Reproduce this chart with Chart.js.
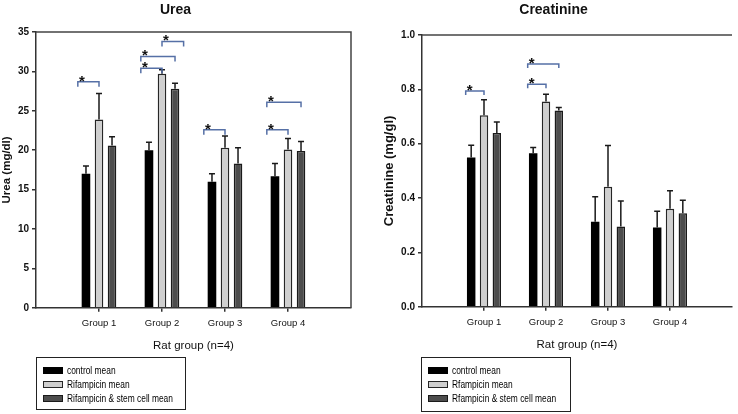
<!DOCTYPE html>
<html>
<head>
<meta charset="utf-8">
<title>Urea and Creatinine by rat group</title>
<script src="https://cdn.jsdelivr.net/npm/chart.js@4.4.1/dist/chart.umd.min.js"></script>
<style>
  body { margin: 0; background: #fff; }
  #page { position: relative; width: 738px; height: 414px; overflow: hidden; }
  .panel { position: absolute; top: 0; width: 369px; height: 414px; }
  .legend {
    position: absolute; top: 357px; width: 150px; box-sizing: border-box;
    border: 1.5px solid #222; padding: 5px 0 0 5.5px;
    font: 10.5px 'Liberation Sans Narrow', 'Arial Narrow', 'Liberation Sans', Arial, sans-serif;
    color: #000;
  }
  .legend .row { height: 14px; display: flex; align-items: center; white-space: nowrap; }
  .legend .sw { width: 20px; height: 7px; box-sizing: border-box; margin-right: 4.5px; border: 1px solid #111; flex: none; }
  .legend .txt { display: inline-block; transform: scaleX(0.8); transform-origin: left center; }
</style>
</head>
<body>
<div id="page">
  <div class="panel" style="left:0"><canvas id="urea" width="369" height="414"></canvas></div>
  <div class="panel" style="left:369px"><canvas id="crea" width="369" height="414"></canvas></div>
  <div class="legend" id="ureaLegend" style="left:36px;height:53px"></div>
  <div class="legend" id="creaLegend" style="left:421px;height:55px"></div>
</div>
<script>
// categories
var groups = ['Group 1', 'Group 2', 'Group 3', 'Group 4'];
var ureaNames = ['control mean', 'Rifampicin mean', 'Rifampicin & stem cell mean'];
var creaNames = ['control mean', 'Rfampicin mean', 'Rfampicin & stem cell mean'];

// urea (mg/dl): means and upper error
var ureaControl = [17.0, 20.0, 16.0, 16.7];
var ureaControlErr = [1.0, 1.0, 1.0, 1.6];
var ureaRif = [23.9, 29.7, 20.3, 20.1];
var ureaRifErr = [3.3, 0.5, 1.5, 1.4];
var ureaStem = [20.6, 27.8, 18.3, 19.9];
var ureaStemErr = [1.1, 0.7, 2.0, 1.2];

// creatinine (mg/gl)
var creaControl = [0.549, 0.565, 0.313, 0.292];
var creaControlErr = [0.045, 0.021, 0.092, 0.060];
var creaRif = [0.705, 0.755, 0.442, 0.361];
var creaRifErr = [0.057, 0.027, 0.151, 0.066];
var creaStem = [0.639, 0.722, 0.295, 0.344];
var creaStemErr = [0.041, 0.011, 0.094, 0.048];

// significance brackets: group, from series, to series, height
var ureaSig = [
  {group: 0, from: 0, to: 1, y: 28.7},
  {group: 1, from: 0, to: 1, y: 30.4},
  {group: 1, from: 0, to: 2, y: 31.9},
  {group: 1, from: 1, to: 2, y: 33.8},
  {group: 2, from: 0, to: 1, y: 22.6},
  {group: 3, from: 0, to: 1, y: 22.6},
  {group: 3, from: 0, to: 2, y: 26.1}
];
var creaSig = [
  {group: 0, from: 0, to: 1, y: 0.794},
  {group: 1, from: 0, to: 1, y: 0.819},
  {group: 1, from: 0, to: 2, y: 0.893}
];

var FONT = "'Liberation Sans Narrow', 'Arial Narrow', 'Liberation Sans', Arial, sans-serif";
var fills = ['#000000', '#cfcfcf', '#4d4d4d'];
var edges = ['#000000', '#262626', '#1a1a1a'];

Chart.defaults.font.family = FONT;
Chart.defaults.color = '#111';

// top / right box lines
var frame = {
  id: 'frame',
  afterDraw: function (chart, args, opts) {
    var a = chart.chartArea, ctx = chart.ctx;
    ctx.save();
    ctx.strokeStyle = '#444';
    ctx.lineWidth = 1.5;
    ctx.beginPath();
    ctx.moveTo(a.left, a.top);
    ctx.lineTo(a.right, a.top);
    if (opts.right) ctx.lineTo(a.right, a.bottom);
    ctx.stroke();
    ctx.restore();
  }
};

// upper error bars from each dataset's errors list
var errorBars = {
  id: 'errorBars',
  afterDatasetsDraw: function (chart) {
    var ctx = chart.ctx, y = chart.scales.y;
    ctx.save();
    ctx.strokeStyle = '#1a1a1a';
    ctx.lineWidth = 1.5;
    chart.data.datasets.forEach(function (ds, i) {
      chart.getDatasetMeta(i).data.forEach(function (bar, j) {
        if (ds.data[j] == null) return;
        var top = y.getPixelForValue(ds.data[j] + ds.errors[j]);
        ctx.beginPath();
        ctx.moveTo(bar.x, bar.y);
        ctx.lineTo(bar.x, top);
        ctx.moveTo(bar.x - 3, top);
        ctx.lineTo(bar.x + 3, top);
        ctx.stroke();
      });
    });
    ctx.restore();
  }
};

// blue brackets with a star
var brackets = {
  id: 'brackets',
  afterDraw: function (chart, args, opts) {
    var ctx = chart.ctx, y = chart.scales.y;
    ctx.save();
    opts.items.forEach(function (b) {
      var a = chart.getDatasetMeta(b.from).data[b.group + 1];
      var c = chart.getDatasetMeta(b.to).data[b.group + 1];
      var w = a.width;
      var x1 = a.x - (b.from === 0 ? opts.lead * w : 0);
      var x2 = c.x + (b.from === 0 ? 0 : w);
      var yy = y.getPixelForValue(b.y);
      ctx.strokeStyle = '#5670a6';
      ctx.lineWidth = 1.5;
      ctx.beginPath();
      ctx.moveTo(x1, yy + opts.drop);
      ctx.lineTo(x1, yy);
      ctx.lineTo(x2, yy);
      ctx.lineTo(x2, yy + opts.drop);
      ctx.stroke();
      ctx.fillStyle = '#111';
      ctx.font = 'bold 15px ' + FONT;
      ctx.textAlign = 'center';
      ctx.textBaseline = 'alphabetic';
      ctx.fillText('*', x1 + 4, yy + 4);
    });
    ctx.restore();
  }
};

function buildChart(id, o) {
  var series = o.values.map(function (v, i) {
    return {
      label: o.names[i],
      data: [null].concat(v, [null]),
      errors: [null].concat(o.errors[i], [null]),
      backgroundColor: fills[i],
      borderColor: edges[i],
      borderWidth: i === 0 ? 0 : 1.5,
      categoryPercentage: 0.62,
      barPercentage: 0.66
    };
  });
  return new Chart(document.getElementById(id), {
    type: 'bar',
    data: { labels: [''].concat(groups, ['']), datasets: series },
    options: {
      responsive: false,
      animation: false,
      layout: { padding: { left: 0, right: o.padRight, top: 0, bottom: o.padBottom } },
      plugins: {
        legend: { display: false },
        tooltip: { enabled: false },
        title: {
          display: true, text: o.title, color: '#111',
          font: { size: 14, weight: 'bold' },
          padding: { top: 2, bottom: o.titleGap }
        },
        frame: { right: o.rightBorder },
        brackets: { items: o.sig, lead: o.lead, drop: o.drop }
      },
      scales: {
        x: {
          offset: false,
          grid: {
            offset: false, drawOnChartArea: false, tickLength: 4, lineWidth: 1.5,
            color: function (c) { return (c.index === 0 || c.index === groups.length + 1) ? 'rgba(0,0,0,0)' : '#333'; }
          },
          border: { color: '#333', width: 1.5 },
          ticks: { padding: 6, autoSkip: false, maxRotation: 0, font: { size: 9.5 }, color: '#111' },
          title: { display: true, text: 'Rat group (n=4)', font: { size: 11.5 }, color: '#111', padding: { top: 4, bottom: 0 } }
        },
        y: {
          min: 0, max: o.max,
          grid: { drawOnChartArea: false, tickLength: 4, lineWidth: 1.5, color: '#333' },
          border: { color: '#333', width: 1.5 },
          ticks: { stepSize: o.step, padding: 3, font: { size: 10, weight: 'bold' }, color: '#111', callback: o.fmt },
          title: { display: true, text: o.yTitle, font: { size: o.yTitleSize, weight: 'bold' }, color: '#111', padding: { top: o.yTitlePad, bottom: 0 } },
          afterFit: function (s) { s.width = o.axisWidth; }
        }
      }
    },
    plugins: [frame, errorBars, brackets]
  });
}

function buildLegend(id, names) {
  var box = document.getElementById(id);
  names.forEach(function (n, i) {
    var row = document.createElement('div');
    row.className = 'row';
    var sw = document.createElement('span');
    sw.className = 'sw';
    sw.style.background = fills[i];
    sw.style.borderColor = edges[i];
    var t = document.createElement('span');
    t.className = 'txt';
    t.textContent = n;
    row.appendChild(sw);
    row.appendChild(t);
    box.appendChild(row);
  });
}

buildChart('urea', {
  title: 'Urea', yTitle: 'Urea (mg/dl)', yTitleSize: 11.5, names: ureaNames,
  values: [ureaControl, ureaRif, ureaStem],
  errors: [ureaControlErr, ureaRifErr, ureaStemErr],
  sig: ureaSig, max: 35, step: 5,
  fmt: function (v) { return v; },
  axisWidth: 36, yTitlePad: 0, padRight: 18, padBottom: 61, titleGap: 13.2,
  rightBorder: true, lead: 0.95, drop: 5
});

buildChart('crea', {
  title: 'Creatinine', yTitle: 'Creatinine (mg/gl)', yTitleSize: 13, names: creaNames,
  values: [creaControl, creaRif, creaStem],
  errors: [creaControlErr, creaRifErr, creaStemErr],
  sig: creaSig, max: 1.0, step: 0.2,
  fmt: function (v) { return v.toFixed(1); },
  axisWidth: 53, yTitlePad: 13, padRight: 0, padBottom: 62, titleGap: 16.2,
  rightBorder: false, lead: 0.65, drop: 4
});

buildLegend('ureaLegend', ureaNames);
buildLegend('creaLegend', creaNames);
</script>
</body>
</html>
